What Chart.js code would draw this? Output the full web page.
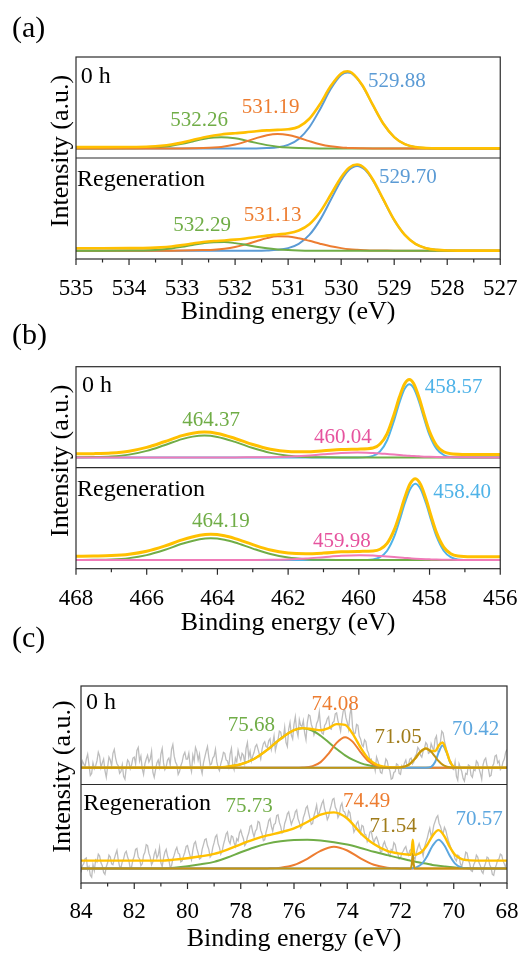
<!DOCTYPE html>
<html>
<head>
<meta charset="utf-8">
<script src="https://cdn.jsdelivr.net/npm/chart.js@4.4.1/dist/chart.umd.min.js"></script>
<style>
  body { margin: 0; background: #fff; width: 528px; height: 956px; position: relative; overflow: hidden; }
  canvas { position: absolute; left: 0; }
</style>
</head>
<body>
<canvas id="chartA" width="528" height="330" style="top:0px"></canvas>
<canvas id="chartB" width="528" height="322" style="top:318px"></canvas>
<canvas id="chartC" width="528" height="334" style="top:622px"></canvas>
<script>
// (a) O 1s - intensity above each spectrum's baseline
const energyA0 = [535, 534.5, 534, 533.6, 533.4, 533.2, 533.0, 532.8, 532.6, 532.4, 532.26, 532.0, 531.8, 531.6, 531.4, 531.2, 531.0, 530.8, 530.6, 530.4, 530.2, 530.0, 529.88, 529.8, 529.6, 529.4, 529.2, 529.0, 528.8, 528.6, 528.4, 528.2, 528, 527.5, 527];
const a0Envelope = [1.3, 1.3, 1.4, 1.9, 2.7, 4.0, 6.0, 8.6, 11.3, 13.4, 14.5, 15.8, 16.6, 17.8, 18.7, 19.2, 19.8, 22.5, 30.8, 45.9, 64.5, 77.9, 80.2, 78.7, 65.6, 44.9, 25.3, 11.7, 4.4, 1.4, 0.4, 0, 0, 0, 0];
const a0Blue = [0, 0, 0, 0, 0, 0, 0, 0, 0, 0, 0, 0, 0, 0, 0.3, 1.1, 3.6, 9.8, 22.0, 40.5, 61.4, 76.2, 79, 77.8, 65.1, 44.7, 25.2, 11.7, 4.4, 1.4, 0.4, 0, 0, 0, 0];
const a0Orange = [0, 0, 0, 0, 0, 0, 0, 0.1, 0.3, 0.8, 1.5, 4.0, 7.1, 10.7, 13.7, 15.0, 14.0, 11.1, 7.5, 4.3, 2.1, 0.9, 0.5, 0.3, 0.1, 0, 0, 0, 0, 0, 0, 0, 0, 0, 0];
const a0Green = [0, 0, 0.1, 0.6, 1.4, 2.7, 4.7, 7.2, 9.7, 11.3, 11.7, 10.5, 8.2, 5.7, 3.4, 1.8, 0.9, 0.4, 0.1, 0, 0, 0, 0, 0, 0, 0, 0, 0, 0, 0, 0, 0, 0, 0, 0];

const energyA1 = [535, 534.5, 534, 533.6, 533.4, 533.2, 533.0, 532.8, 532.6, 532.4, 532.2, 532.0, 531.8, 531.6, 531.4, 531.2, 531.0, 530.8, 530.6, 530.4, 530.2, 530.0, 529.85, 529.7, 529.55, 529.4, 529.2, 529.0, 528.8, 528.6, 528.4, 528.2, 528, 527.5, 527];
const a1Envelope = [2.5, 2.5, 2.6, 2.9, 3.4, 4.3, 5.7, 7.4, 9.0, 10.0, 10.6, 11.4, 12.6, 14.1, 15.6, 16.8, 18.0, 21.0, 27.5, 40.0, 57.8, 76.3, 86.2, 89.5, 85.2, 73.7, 52.7, 31.9, 16.3, 7.1, 2.6, 0.8, 0.2, 0, 0];
const a1Blue = [0, 0, 0, 0, 0, 0, 0, 0, 0, 0, 0, 0, 0, 0, 0.2, 0.8, 2.6, 7.1, 16.3, 31.7, 52.3, 73.0, 84.0, 88, 84.0, 73.0, 52.3, 31.7, 16.3, 7.1, 2.6, 0.8, 0.2, 0, 0];
const a1Orange = [0, 0, 0, 0, 0, 0, 0.1, 0.3, 0.6, 1.0, 2.0, 3.8, 6.5, 9.8, 13.0, 14.9, 14.7, 12.9, 10.2, 7.2, 4.5, 2.6, 1.5, 0.9, 0.5, 0.2, 0.1, 0, 0, 0, 0, 0, 0, 0, 0];
const a1Green = [0, 0, 0.1, 0.5, 1.2, 2.3, 3.9, 5.9, 7.7, 8.8, 8.9, 7.8, 6.0, 4.1, 2.4, 1.3, 0.6, 0.2, 0, 0, 0, 0, 0, 0, 0, 0, 0, 0, 0, 0, 0, 0, 0, 0, 0];

// (b) Ti 2p
const energyB0 = [468, 467.5, 467, 466.5, 466, 465.5, 465, 464.7, 464.37, 464, 463.5, 463, 462.5, 462, 461.5, 461, 460.5, 460.04, 459.6, 459.4, 459.2, 459.0, 458.85, 458.7, 458.57, 458.45, 458.3, 458.15, 458.0, 457.8, 457.6, 457.4, 457.0, 456.5, 456];
const b0Envelope = [3.7, 3.9, 4.6, 6.5, 10.4, 16.3, 22.6, 25.2, 26.3, 24.9, 19.7, 13.4, 8.5, 6.1, 5.8, 6.9, 8.1, 8.6, 9.7, 13.9, 24.8, 45.1, 63.0, 76.9, 81.0, 76.8, 62.5, 43.9, 26.9, 12.3, 5.8, 3.7, 3.1, 3.0, 3.0];
const b0Blue = [0, 0, 0, 0, 0, 0, 0, 0, 0, 0, 0, 0, 0, 0, 0, 0, 0, 0, 1.6, 6.2, 17.8, 38.7, 57.1, 71.5, 76, 72.1, 58.2, 39.9, 23.2, 8.8, 2.5, 0.5, 0, 0, 0];
const b0Green = [0.1, 0.3, 1.0, 2.9, 6.8, 12.7, 19.0, 21.6, 22.7, 21.3, 16.1, 9.7, 4.7, 1.8, 0.5, 0.1, 0, 0, 0, 0, 0, 0, 0, 0, 0, 0, 0, 0, 0, 0, 0, 0, 0, 0, 0];
const b0Pink = [0, 0, 0, 0, 0, 0, 0, 0, 0, 0, 0, 0.1, 0.2, 0.7, 1.7, 3.2, 4.5, 5.0, 4.5, 4.1, 3.5, 2.9, 2.5, 2.0, 1.7, 1.4, 1.1, 0.8, 0.6, 0.4, 0.25, 0.15, 0.05, 0, 0];

const energyB1 = [468, 467.5, 467, 466.5, 466, 465.5, 465, 464.5, 464.19, 463.8, 463.5, 463, 462.5, 462, 461.5, 461, 460.5, 459.98, 459.6, 459.4, 459.2, 459.0, 458.85, 458.7, 458.55, 458.4, 458.25, 458.1, 457.95, 457.8, 457.6, 457.4, 457.2, 456.8, 456.5, 456];
const b1Envelope = [4.0, 4.2, 4.6, 6.0, 9.1, 14.4, 20.9, 25.7, 26.7, 25.2, 22.3, 16.0, 10.4, 7.3, 6.5, 7.2, 8.5, 9.0, 9.4, 11.2, 17.3, 31.3, 47.2, 65.0, 79.2, 84.5, 78.4, 63.4, 45.0, 28.2, 13.4, 6.6, 4.2, 3.4, 3.4, 3.4];
const b1Blue = [0, 0, 0, 0, 0, 0, 0, 0, 0, 0, 0, 0, 0, 0, 0, 0, 0, 0, 0.7, 3.0, 9.7, 24.3, 40.8, 59.0, 73.7, 79.4, 73.7, 59.0, 40.8, 24.3, 9.7, 3.0, 0.7, 0, 0, 0];
const b1Green = [0, 0.2, 0.6, 2.0, 5.1, 10.4, 16.9, 21.7, 22.7, 21.2, 18.3, 11.9, 6.2, 2.6, 0.9, 0.2, 0.05, 0, 0, 0, 0, 0, 0, 0, 0, 0, 0, 0, 0, 0, 0, 0, 0, 0, 0, 0];
const b1Pink = [0, 0, 0, 0, 0, 0, 0, 0, 0, 0, 0, 0.05, 0.2, 0.65, 1.6, 3.0, 4.4, 5.0, 4.65, 4.2, 3.7, 3.1, 2.6, 2.2, 1.8, 1.4, 1.1, 0.85, 0.65, 0.45, 0.3, 0.18, 0.1, 0.03, 0, 0];

// (c) fitted components
const energyC0 = [84, 82, 80, 79, 78.5, 78, 77.5, 77, 76.5, 76, 75.68, 75.3, 75, 74.7, 74.4, 74.08, 73.8, 73.5, 73.2, 72.9, 72.6, 72.3, 72.0, 71.7, 71.45, 71.25, 71.05, 70.85, 70.7, 70.56, 70.42, 70.28, 70.14, 70.0, 69.8, 69.5, 69, 68];
const c0Envelope = [0, 0, 0, 0.3, 1.1, 3.6, 9.1, 18.6, 30.2, 39.1, 41.2, 40.0, 39.0, 41.2, 45.3, 44.5, 35.4, 21.0, 9.2, 3.2, 0.95, 0.28, 0.4, 2.9, 9.6, 16.6, 20, 17.5, 17.3, 23.1, 26.2, 17.7, 6.35, 1.0, 0, 0, 0, 0];
const c0Green = [0, 0, 0, 0.3, 1.1, 3.6, 9.1, 18.6, 30.2, 39.1, 41, 38.4, 33.2, 26.5, 19.5, 12.8, 8.3, 4.8, 2.5, 1.2, 0.55, 0.23, 0.1, 0, 0, 0, 0, 0, 0, 0, 0, 0, 0, 0, 0, 0, 0, 0];
const c0Orange = [0, 0, 0, 0, 0, 0, 0, 0, 0, 0, 0.2, 1.6, 5.8, 14.7, 25.8, 31.7, 27.1, 16.2, 6.7, 2.0, 0.4, 0.05, 0, 0, 0, 0, 0, 0, 0, 0, 0, 0, 0, 0, 0, 0, 0, 0];
const c0Olive = [0, 0, 0, 0, 0, 0, 0, 0, 0, 0, 0, 0, 0, 0, 0, 0, 0, 0, 0, 0, 0, 0, 0.3, 2.9, 9.6, 16.6, 20, 16.6, 11.4, 6.7, 3.2, 1.3, 0.45, 0.1, 0, 0, 0, 0];
const c0Blue = [0, 0, 0, 0, 0, 0, 0, 0, 0, 0, 0, 0, 0, 0, 0, 0, 0, 0, 0, 0, 0, 0, 0, 0, 0, 0, 0, 0.9, 5.9, 16.4, 23, 16.4, 5.9, 0.9, 0, 0, 0, 0];

const energyC1 = [84, 82, 81, 80.5, 80, 79.5, 79, 78.5, 78, 77.5, 77, 76.5, 76, 75.5, 75, 74.5, 74, 73.5, 73, 72.5, 72, 71.7, 71.62, 71.58, 71.54, 71.50, 71.46, 71.4, 71.2, 71.0, 70.8, 70.57, 70.35, 70.15, 69.95, 69.7, 69.5, 69, 68];
const c1Envelope = [8.3, 8.3, 8.3, 9.3, 10.8, 12.8, 15.3, 19.8, 25.3, 30.3, 34.5, 37.8, 41.9, 48.5, 56.1, 58.5, 52.1, 37, 25.5, 18.5, 15.5, 14.5, 14.3, 18.5, 30, 18.5, 14.3, 14.6, 17.5, 24.5, 34, 40, 33.5, 22.5, 14.2, 9.8, 8.8, 8.3, 8.3];
const c1Green = [0, 0, 0, 1, 2.5, 4.5, 7, 11.5, 17, 22, 26, 28.5, 29.8, 30, 29.3, 27.5, 25, 21.5, 17.5, 14, 10.7, 8.7, 8.2, 8.0, 7.8, 7.5, 7.3, 6.9, 5.9, 5.0, 3.8, 3.0, 2.3, 1.7, 1.2, 0.8, 0.5, 0, 0];
const c1Orange = [0, 0, 0, 0, 0, 0, 0, 0, 0, 0, 0.2, 1.0, 3.8, 10.2, 18.5, 22.7, 18.8, 10.6, 4.0, 1.0, 0.2, 0, 0, 0, 0, 0, 0, 0, 0, 0, 0, 0, 0, 0, 0, 0, 0, 0, 0];
const c1Olive = [0, 0, 0, 0, 0, 0, 0, 0, 0, 0, 0, 0, 0, 0, 0, 0, 0, 0, 0, 0, 0, 0, 0, 4, 16, 4, 0, 0, 0, 0, 0, 0, 0, 0, 0, 0, 0, 0, 0];
const c1Blue = [0, 0, 0, 0, 0, 0, 0, 0, 0, 0, 0, 0, 0, 0, 0, 0, 0, 0, 0, 0, 0, 0.1, 0.2, 0.3, 0.4, 0.6, 0.8, 1.3, 4.9, 12.8, 23.5, 30, 24.0, 13.4, 5.2, 0.9, 0.2, 0, 0];

// (c) raw counts, 84 -> 68 eV in 0.05 eV steps
const rawEnergyC = Array.from({length: 321}, (_, i) => +(84 - i * 0.05).toFixed(2));
const c0Raw = [
  -2, 7, 4, 1, 9, 14, 3, -8, -6, 5, -1, 2, 7, 16, 12, 0, 5, 9, -3, -10,
  1, 11, 8, 2, 15, 19, 10, 4, 2, -6, -4, 3, -9, -12, 0, 8, 6, -1, 3, 10,
  11, 4, 18, 21, 7, 12, -1, -7, 4, 9, 13, 6, 9, 17, -5, -10, -2, 5, 8, 1,
  14, 20, 5, -2, 1, 8, 10, 3, 19, 24, 12, 6, 3, -7, -4, 2, 6, 13, 16, 9,
  9, 15, 2, -4, 13, 7, 21, 17, 8, 14, 0, -6, 5, 11, 17, 22, 11, 3, 4, 10,
  12, 19, 6, 0, -3, 4, 9, 16, 15, 8, 7, 1, 14, 20, 3, -2, 10, 6, 18, 12,
  8, 15, 13, 5, 20, 26, 11, 17, 7, 12, 16, 22, 24, 19, 14, 9, 19, 25, 27, 22,
  21, 28, 30, 19, 25, 33, 18, 24, 29, 38, 37, 30, 31, 42, 26, 22, 40, 47, 34, 30,
  45, 53, 39, 33, 50, 44, 43, 49, 36, 29, 47, 55, 54, 45, 41, 34, 38, 46, 49, 58,
  42, 36, 35, 44, 46, 51, 53, 41, 40, 47, 48, 56, 57, 49, 44, 38, 50, 59, 61, 52,
  47, 40, 55, 63, 42, 35, 36, 45, 44, 33, 30, 24, 22, 29, 27, 18, 15, 8, 9, 2,
  4, -3, 11, 7, 2, -5, -6, 1, 1, 9, 7, 0, -3, -12, -11, -5, -4, 4, 3, -6,
  -7, 2, 0, 5, 8, 1, 3, 9, 10, 4, 6, 12, 14, 21, 19, 13, 11, 17, 20, 26,
  24, 15, 16, 25, 21, 18, 30, 33, 19, 24, 27, 38, 36, 28, 22, 16, 13, 5, 6, -1,
  -2, 6, -9, -13, 4, 0, -4, -11, -14, -6, -7, 3, 2, -8, -10, -2, -3, 7, 5, -1,
  -6, -12, 3, 8, 10, 2, -1, -9, -8, 1, 4, 12, 13, 5, 7, -2, 0, 6, 9, 16,
  19];
const c1Raw = [
  -4, 3, 5, 10, 11, -1, 2, -7, -9, 4, -2, 9, 7, 15, 13, 6, 3, -4, -6, 2,
  6, 14, 12, 5, 4, 10, 15, 19, 9, 2, 1, 7, 10, 16, 18, 12, 8, 0, 2, 9,
  13, 20, 21, 12, 10, 3, 5, 14, 17, 25, 24, 16, 12, 4, 7, 15, 19, 11, 14, 22,
  6, 2, 11, 17, 20, 13, 9, 1, 3, 10, 14, 19, 22, 16, 15, 7, 8, 13, 17, 23,
  24, 18, 13, 9, 19, 26, 28, 21, 16, 10, 11, 20, 25, 30, 31, 24, 20, 12, 14, 22,
  27, 33, 35, 26, 22, 15, 18, 25, 30, 36, 38, 29, 26, 34, 33, 27, 23, 31, 29, 37,
  40, 35, 31, 24, 26, 33, 37, 44, 45, 38, 33, 39, 41, 49, 48, 40, 36, 29, 30, 38,
  43, 50, 52, 44, 39, 46, 47, 55, 56, 48, 44, 37, 38, 47, 51, 57, 59, 52, 46, 50,
  53, 59, 61, 52, 48, 42, 44, 53, 57, 63, 65, 58, 52, 46, 47, 55, 60, 66, 55, 58,
  63, 68, 71, 62, 58, 51, 54, 61, 66, 72, 73, 64, 61, 53, 56, 65, 68, 60, 59, 55,
  52, 60, 58, 49, 46, 38, 41, 47, 49, 42, 37, 45, 44, 36, 35, 28, 31, 38, 39, 32,
  27, 31, 33, 29, 24, 17, 18, 25, 28, 23, 21, 15, 13, 20, 19, 27, 25, 18, 15, 10,
  11, 16, 18, 21, 23, 17, 14, 19, 20, 15, 12, 10, 17, 22, 26, 21, 19, 13, 22, 27,
  31, 37, 42, 34, 37, 45, 49, 53, 55, 47, 44, 39, 36, 43, 40, 34, 29, 25, 21, 17,
  15, 10, 8, 14, 13, 5, 2, 8, 9, 17, 16, 9, 5, -2, -3, 4, 7, 14, 12, 6,
  3, -3, -5, 2, 6, 12, 11, 4, 1, -6, -7, 0, 4, 9, 10, 15, 14, 8, 5, 1,
  8];

const SERIF = '"Liberation Serif", "Times New Roman", Times, serif';
const COL = {
  yellow: '#FFC000', orange: '#ED7D31', green: '#70AD47',
  blueA: '#5B9BD5', blueB: '#4FB3E8', blueC: '#5DA7DF',
  pink: '#F07AB8', pinkText: '#E6539E', olive: '#C49510', oliveText: '#A07C1A', gray: '#BDBDBD'
};

function pts(energy, values) {
  return values.map((v, i) => ({x: energy[i], y: v}));
}

function fit(energy, values, color, axis, width) {
  return {
    data: pts(energy, values), yAxisID: axis, borderColor: color, borderWidth: width || 2,
    pointRadius: 0, fill: false, cubicInterpolationMode: 'monotone'
  };
}

function raw(energy, values, axis) {
  return {
    data: pts(energy, values), yAxisID: axis, borderColor: COL.gray, borderWidth: 1.3,
    pointRadius: 0, fill: false, tension: 0
  };
}

// box, divider, outward ticks, peak labels, panel letter, y title
const xpsFrame = {
  id: 'xpsFrame',
  afterDatasetsDraw(chart, args, o) {
    const {ctx, chartArea: a, scales} = chart;
    const x = scales.x;
    ctx.save();
    ctx.strokeStyle = '#2b2b2b';
    ctx.lineWidth = 1.2;
    ctx.strokeRect(a.left, a.top, a.right - a.left, a.bottom - a.top);
    ctx.beginPath();
    ctx.moveTo(a.left, scales.yBot.top);
    ctx.lineTo(a.right, scales.yBot.top);
    for (let v = x.min; v <= x.max + 1e-6; v += o.minor) {
      const px = x.getPixelForValue(v);
      const isMajor = Math.abs(v / o.major - Math.round(v / o.major)) < 1e-6;
      ctx.moveTo(px, a.bottom);
      ctx.lineTo(px, a.bottom + (isMajor ? 6 : 3.5));
    }
    ctx.stroke();

    ctx.textBaseline = 'middle';
    o.notes.forEach(n => {
      ctx.font = (n.size || 21) + 'px ' + SERIF;
      ctx.fillStyle = n.color;
      ctx.textAlign = n.align || 'center';
      ctx.fillText(n.text, x.getPixelForValue(n.x), scales[n.axis].getPixelForValue(n.y));
    });

    ctx.fillStyle = '#000';
    ctx.font = '30px ' + SERIF;
    ctx.textAlign = 'left';
    ctx.fillText(o.panel, 12, o.panelY);

    ctx.translate(o.yTitleX, o.yTitleY);
    ctx.rotate(-Math.PI / 2);
    ctx.font = '26px ' + SERIF;
    ctx.textAlign = 'center';
    ctx.fillText('Intensity (a.u.)', 0, 0);
    ctx.restore();
  }
};

function makePanel(p) {
  return new Chart(document.getElementById(p.canvas), {
    type: 'line',
    data: {datasets: p.datasets},
    options: {
      responsive: false,
      animation: false,
      devicePixelRatio: 1,
      events: [],
      layout: {padding: p.padding, autoPadding: false},
      plugins: {
        legend: {display: false},
        tooltip: {enabled: false},
        xpsFrame: {
          notes: p.notes, major: p.major, minor: p.minor, panel: p.panel,
          panelY: p.panelY, yTitleX: p.yTitle[0], yTitleY: p.yTitle[1]
        }
      },
      scales: {
        x: {
          type: 'linear', reverse: true, min: p.xRange[0], max: p.xRange[1],
          grid: {display: false}, border: {display: false},
          ticks: {
            stepSize: p.major, autoSkip: false, maxRotation: 0, padding: p.tickPad, color: '#000',
            font: {family: SERIF, size: 23, lineHeight: 1}
          },
          title: {
            display: true, text: 'Binding energy (eV)', color: '#000',
            font: {family: SERIF, size: 26, lineHeight: 1},
            padding: {top: p.titlePad, bottom: 0}
          }
        },
        yBot: {type: 'linear', display: false, stack: 'xps', stackWeight: 1, min: p.bot[0], max: p.bot[1]},
        yTop: {type: 'linear', display: false, stack: 'xps', stackWeight: 1, min: p.top[0], max: p.top[1]}
      }
    },
    plugins: [xpsFrame]
  });
}

makePanel({
  canvas: 'chartA', panel: '(a)', panelY: 29,
  xRange: [527, 535], major: 1, minor: 0.5,
  padding: {left: 76, right: 25, top: 57, bottom: 5}, tickPad: 10.5, titlePad: -12,
  yTitle: [61, 151], top: [-10, 95], bot: [-8.7, 96.3],
  datasets: [
    fit(energyA0, a0Envelope, COL.yellow, 'yTop', 2.6),
    fit(energyA0, a0Orange, COL.orange, 'yTop'),
    fit(energyA0, a0Green, COL.green, 'yTop'),
    fit(energyA0, a0Blue, COL.blueA, 'yTop'),
    fit(energyA1, a1Envelope, COL.yellow, 'yBot', 2.6),
    fit(energyA1, a1Green, COL.green, 'yBot'),
    fit(energyA1, a1Orange, COL.orange, 'yBot'),
    fit(energyA1, a1Blue, COL.blueA, 'yBot')
  ],
  notes: [
    {text: '0 h', x: 534.91, y: 74, axis: 'yTop', color: '#000', size: 24, align: 'left'},
    {text: '529.88', x: 528.95, y: 70, axis: 'yTop', color: COL.blueA},
    {text: '531.19', x: 531.33, y: 42, axis: 'yTop', color: COL.orange},
    {text: '532.26', x: 532.68, y: 29, axis: 'yTop', color: COL.green},
    {text: 'Regeneration', x: 534.98, y: 74, axis: 'yBot', color: '#000', size: 24, align: 'left'},
    {text: '529.70', x: 528.74, y: 76.3, axis: 'yBot', color: COL.blueA},
    {text: '531.13', x: 531.29, y: 36.6, axis: 'yBot', color: COL.orange},
    {text: '532.29', x: 532.62, y: 26, axis: 'yBot', color: COL.green}
  ]
});

makePanel({
  canvas: 'chartB', panel: '(b)', panelY: 18,
  xRange: [456, 468], major: 2, minor: 1,
  padding: {left: 76, right: 25, top: 48.7, bottom: 4.3}, tickPad: 10.5, titlePad: -11,
  yTitle: [61, 142.8], top: [-10.7, 94.3], bot: [-9, 96],
  datasets: [
    fit(energyB0, b0Envelope, COL.yellow, 'yTop', 3),
    fit(energyB0, b0Pink, COL.pink, 'yTop'),
    fit(energyB0, b0Green, COL.green, 'yTop'),
    fit(energyB0, b0Blue, COL.blueB, 'yTop'),
    fit(energyB1, b1Envelope, COL.yellow, 'yBot', 3),
    fit(energyB1, b1Pink, COL.pink, 'yBot'),
    fit(energyB1, b1Green, COL.green, 'yBot'),
    fit(energyB1, b1Blue, COL.blueB, 'yBot')
  ],
  notes: [
    {text: '0 h', x: 467.83, y: 74.3, axis: 'yTop', color: '#000', size: 24, align: 'left'},
    {text: '458.57', x: 457.32, y: 72.7, axis: 'yTop', color: COL.blueB},
    {text: '464.37', x: 464.18, y: 38.3, axis: 'yTop', color: COL.green},
    {text: '460.04', x: 460.45, y: 21, axis: 'yTop', color: COL.pinkText},
    {text: 'Regeneration', x: 467.97, y: 73.4, axis: 'yBot', color: '#000', size: 24, align: 'left'},
    {text: '458.40', x: 457.08, y: 70.4, axis: 'yBot', color: COL.blueB},
    {text: '464.19', x: 463.90, y: 40, axis: 'yBot', color: COL.green},
    {text: '459.98', x: 460.48, y: 19.4, axis: 'yBot', color: COL.pinkText}
  ]
});

makePanel({
  canvas: 'chartC', panel: '(c)', panelY: 17,
  xRange: [68, 84], major: 2, minor: 1,
  padding: {left: 81, right: 21, top: 64, bottom: 4}, tickPad: 9.5, titlePad: -7,
  yTitle: [63, 154.5], top: [-17.5, 85], bot: [-15, 87.5],
  datasets: [
    fit(energyC0, c0Olive, COL.olive, 'yTop'),
    fit(energyC0, c0Envelope, COL.yellow, 'yTop', 2.4),
    fit(energyC0, c0Blue, COL.blueC, 'yTop'),
    fit(energyC0, c0Orange, COL.orange, 'yTop'),
    fit(energyC0, c0Green, COL.green, 'yTop'),
    raw(rawEnergyC, c0Raw, 'yTop'),
    fit(energyC1, c1Envelope, COL.yellow, 'yBot', 2.4),
    fit(energyC1, c1Olive, COL.olive, 'yBot'),
    fit(energyC1, c1Blue, COL.blueC, 'yBot'),
    fit(energyC1, c1Orange, COL.orange, 'yBot'),
    fit(energyC1, c1Green, COL.green, 'yBot'),
    raw(rawEnergyC, c1Raw, 'yBot')
  ],
  notes: [
    {text: '0 h', x: 83.81, y: 67.7, axis: 'yTop', color: '#000', size: 24, align: 'left'},
    {text: '74.08', x: 74.46, y: 66, axis: 'yTop', color: COL.orange},
    {text: '75.68', x: 77.60, y: 43.7, axis: 'yTop', color: COL.green},
    {text: '71.05', x: 72.09, y: 31, axis: 'yTop', color: COL.oliveText},
    {text: '70.42', x: 69.18, y: 39.3, axis: 'yTop', color: COL.blueC},
    {text: 'Regeneration', x: 83.92, y: 67.7, axis: 'yBot', color: '#000', size: 24, align: 'left'},
    {text: '75.73', x: 77.69, y: 65, axis: 'yBot', color: COL.green},
    {text: '74.49', x: 73.27, y: 70.3, axis: 'yBot', color: COL.orange},
    {text: '71.54', x: 72.28, y: 44.3, axis: 'yBot', color: COL.oliveText},
    {text: '70.57', x: 69.05, y: 51, axis: 'yBot', color: COL.blueC}
  ]
});
</script>
</body>
</html>
